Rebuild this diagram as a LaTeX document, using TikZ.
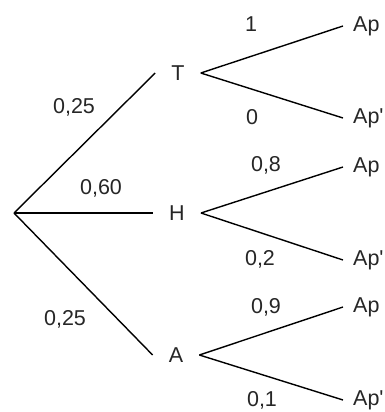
\documentclass[tikz,border=0pt]{standalone}
\usepackage{fontspec}
\setmainfont{Liberation Sans}
\usetikzlibrary{positioning}

\begin{document}
\begin{tikzpicture}[
    x=1pt,y=-1pt,
    font=\fontsize{21.5}{25}\selectfont,
    stage/.style={inner xsep=16pt,inner ysep=0pt,text=black!85},
    leaf/.style={anchor=west,inner xsep=10pt,inner ysep=0pt,text=black!85},
    prob/.style={inner sep=0pt,text=black!85},
    branch/.style={line width=1.4pt}
]
\useasboundingbox (0,0) rectangle (385,412);
\coordinate (root) at (14,213);
\node[stage] (T) at (178,73) {T};
\node[stage] (H) at (177,213) {H};
\node[stage] (A) at (176,355) {A};
\node[leaf] (TAp) at (343,26) {Ap};
\node[leaf] (TApn) at (343,118) {Ap\textquotesingle};
\node[leaf] (HAp) at (343,167) {Ap};
\node[leaf] (HApn) at (343,260) {Ap\textquotesingle};
\node[leaf] (AAp) at (343,307) {Ap};
\node[leaf] (AApn) at (343,400) {Ap\textquotesingle};
\draw[branch] (root) -- (T.west);
\draw[branch] (root) -- (H.west);
\draw[branch] (root) -- (A.west);
\draw[branch] (T.east) -- (TAp.west);
\draw[branch] (T.east) -- (TApn.west);
\draw[branch] (H.east) -- (HAp.west);
\draw[branch] (H.east) -- (HApn.west);
\draw[branch] (A.east) -- (AAp.west);
\draw[branch] (A.east) -- (AApn.west);
% probabilities
\node[prob] (pT) at (74,107) {0,25};
\node[prob] (pH) at (101,188) {0,60};
\node[prob] (pA) at (65,319) {0,25};
\node[prob] (pTAp) at (251,24) {1};
\node[prob] (pTApn) at (252,117) {0};
\node[prob] (pHAp) at (266,165) {0,8};
\node[prob] (pHApn) at (260,259) {0,2};
\node[prob] (pAAp) at (266,307) {0,9};
\node[prob] (pAApn) at (262,400) {0,1};
\end{tikzpicture}
\end{document}
